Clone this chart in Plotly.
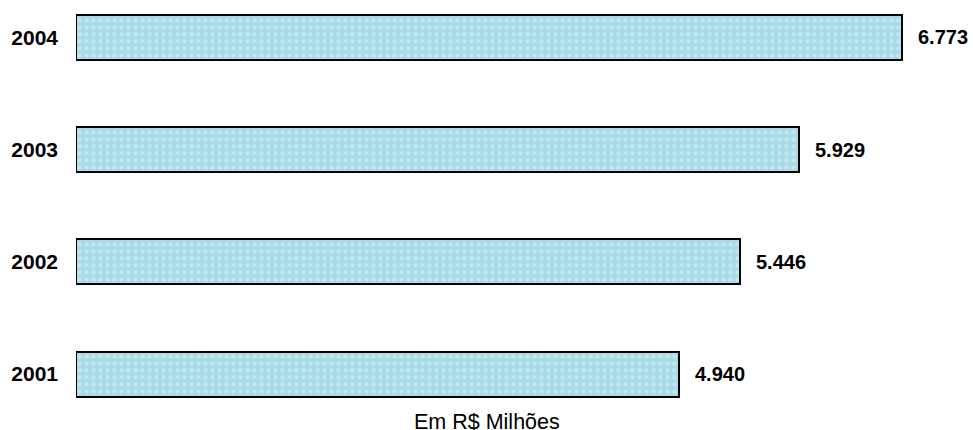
import plotly.graph_objects as go

years = ["2001", "2002", "2003", "2004"]
values = [4940, 5446, 5929, 6773]
value_labels = ["4.940", "5.446", "5.929", "6.773"]
unit_note = "Em R$ Milhões"

FONT = "Arial, Liberation Sans, sans-serif"

W, H = 973, 430
L, R, T, B = 76, 43, 10, 30
plot_w = W - L - R

fig = go.Figure()
fig.add_trace(go.Bar(
    y=years, x=values, orientation="h", width=0.4,
    marker=dict(
        color="#aadce6",
        line=dict(color="#000000", width=2),
        pattern=dict(shape=".", fgcolor="#dcf4f8", bgcolor="#a8dbe6",
                     size=7, solidity=0.3, fillmode="overlay"),
    ),
    hoverinfo="skip",
))

for i, (v, t) in enumerate(zip(values, value_labels)):
    fig.add_annotation(x=v, y=i, text="<b>%s</b>" % t, showarrow=False,
                       xanchor="left", yanchor="middle", xshift=14,
                       font=dict(family=FONT, size=20, color="#000000"))

fig.add_annotation(x=(487 - L) / plot_w, xref="paper", y=-0.057, yref="paper",
                   text=unit_note, showarrow=False, xanchor="center",
                   yanchor="middle",
                   font=dict(family=FONT, size=21.5, color="#000000"))

fig.update_layout(
    width=W, height=H,
    margin=dict(l=L, r=R, t=T, b=B),
    paper_bgcolor="white", plot_bgcolor="white",
    showlegend=False,
    bargap=0,
    xaxis=dict(range=[0, 7000], showgrid=False, zeroline=False,
               showticklabels=False, showline=False, ticks=""),
    yaxis=dict(type="category", categoryorder="array", categoryarray=years,
               range=[-0.231, 3.245], showgrid=False, zeroline=False,
               showline=False, ticks="", ticklabelstandoff=17,
               tickfont=dict(family=FONT, size=21, color="#000000", weight="bold")),
)

fig.write_html("out.html",
               config={"displayModeBar": False},
               post_script="document.body.style.margin='0';"
                           "document.body.style.overflow='hidden';")
